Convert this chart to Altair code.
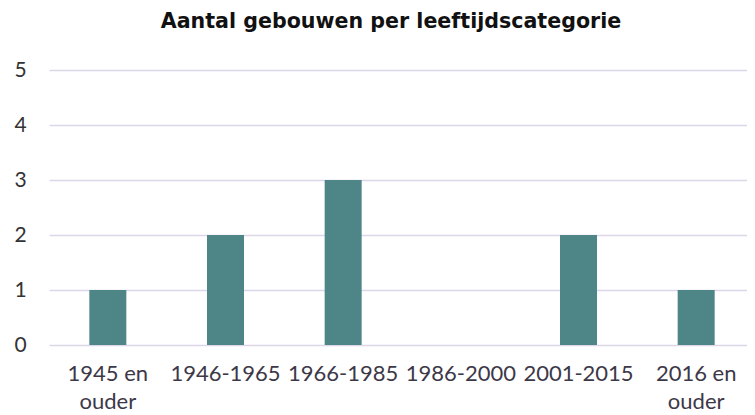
import altair as alt
import pandas as pd

categories = ["1945 en ouder", "1946-1965", "1966-1985", "1986-2000", "2001-2015", "2016 en ouder"]
values = [1, 2, 3, 0, 2, 1]
y_ticks = [0, 1, 2, 3, 4, 5]

df = pd.DataFrame({"cat": categories, "n": values})

label_expr = (
    "datum.label == '1945 en ouder' ? ['1945 en', 'ouder'] : "
    "datum.label == '2016 en ouder' ? ['2016 en', 'ouder'] : datum.label"
)

chart = alt.Chart(df).mark_bar(size=37, color="#4e8587").encode(
    x=alt.X("cat:N", sort=categories, title=None,
            scale=alt.Scale(paddingInner=0, paddingOuter=0),
            axis=alt.Axis(labelAngle=0, labelExpr=label_expr, domain=False, ticks=False,
                          labelFont="Lato", labelFontSize=22, labelColor="#3d3848",
                          labelPadding=18, labelBaseline="top", labelLineHeight=28,
                          labelOverlap=False, labelFlush=False)),
    y=alt.Y("n:Q", title=None, scale=alt.Scale(domain=[0, 5], nice=False),
            axis=alt.Axis(values=y_ticks, domain=False, ticks=False, grid=True,
                          gridColor="#dcd6e8", gridWidth=1.5,
                          labelFont="Lato", labelFontSize=21, labelColor="#333333",
                          labelPadding=35, labelAlign="left")),
).properties(
    width=706, height=275,
    title=alt.TitleParams("Aantal gebouwen per leeftijdscategorie", font="DejaVu Sans",
                          fontSize=20.6, fontWeight="bold", color="#111111",
                          anchor="middle", frame="group", dx=-11, offset=26),
    autosize=alt.AutoSizeParams(type="none"),
    padding={"left": 41, "top": 62, "right": -8, "bottom": 70},
).configure_view(stroke=None)

chart.save("out.html", embed_options={"renderer": "svg", "actions": False})
